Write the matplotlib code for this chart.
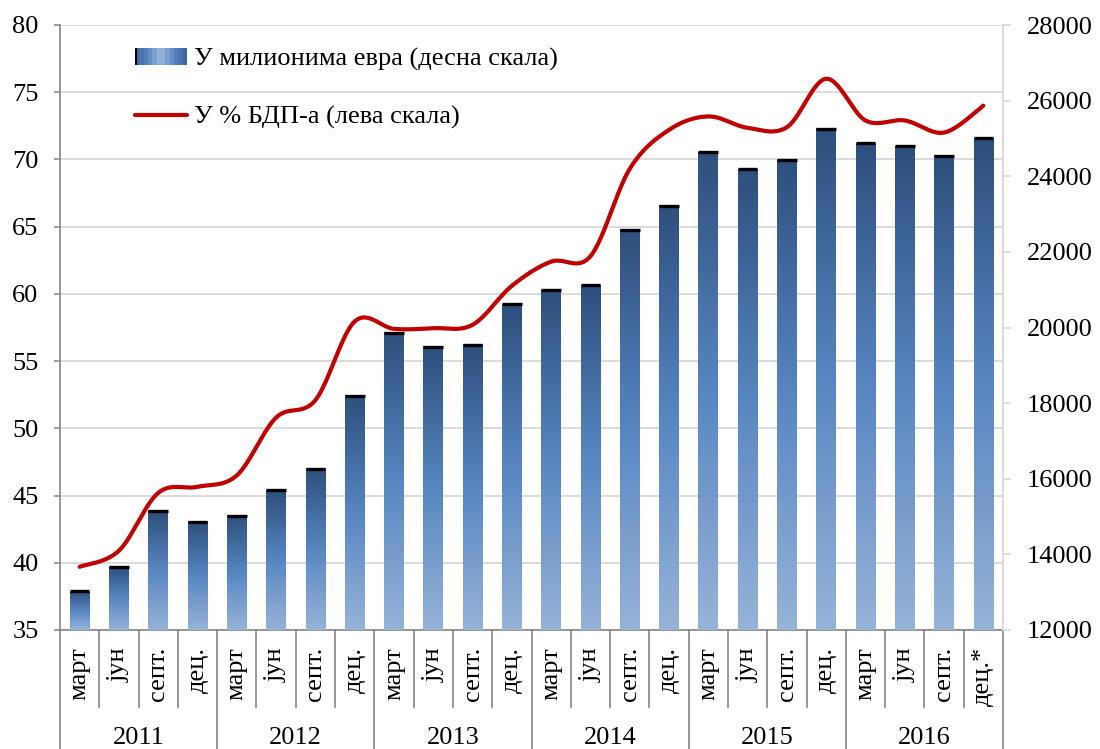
import numpy as np
import matplotlib
matplotlib.use("Agg")
import matplotlib.pyplot as plt
import matplotlib.transforms as mtransforms
from matplotlib.colors import LinearSegmentedColormap
from matplotlib.patches import Rectangle
from matplotlib.legend_handler import HandlerBase

# ---------------- data ----------------
quarter_labels = ["март", "јун", "септ.", "дец.",
                  "март", "јун", "септ.", "дец.",
                  "март", "јун", "септ.", "дец.",
                  "март", "јун", "септ.", "дец.",
                  "март", "јун", "септ.", "дец.",
                  "март", "јун", "септ.", "дец.*"]
year_labels = ["2011", "2012", "2013", "2014", "2015", "2016"]

debt_eur = [13030, 13670, 15150, 14860, 15020, 15700, 16260, 18190,
            19860, 19490, 19540, 20610, 20990, 21120, 22580, 23220,
            24640, 24190, 24430, 25250, 24870, 24800, 24540, 25010]
debt_gdp = [39.7, 40.9, 45.2, 45.65, 46.5, 50.8, 52.1, 57.95,
            57.4, 57.45, 57.7, 60.6, 62.4, 62.8, 69.3, 72.2,
            73.2, 72.35, 72.4, 76.0, 72.9, 72.9, 72.0, 74.0]

left_ticks = [35, 40, 45, 50, 55, 60, 65, 70, 75, 80]
right_ticks = [12000, 14000, 16000, 18000, 20000, 22000, 24000, 26000, 28000]

label_bars = "У милионима евра (десна скала)"
label_line = "У % БДП-а (лева скала)"

# ---------------- style ----------------
plt.rcParams["font.family"] = ["Liberation Serif", "DejaVu Serif"]
FS = 19
GRID = "#D9D9D9"
AXC = "#868686"
RED = "#C00000"

fig = plt.figure(figsize=(11, 7.49), dpi=100)
W, H = 1100, 749
L, R, T, B = 60, 1003, 25, 630
ax = fig.add_axes([L / W, 1 - B / H, (R - L) / W, (B - T) / H])

n = len(debt_eur)
x = np.arange(n)

# left axis (grid + ticks)
ax.set_xlim(-0.5, n - 0.5)
ax.set_ylim(left_ticks[0], left_ticks[-1])
ax.set_yticks(left_ticks)
ax.set_xticks([])
ax.yaxis.grid(True, color=GRID, lw=1.3, zorder=0)
ax.set_axisbelow(True)
for s in ["top", "right"]:
    ax.spines[s].set_visible(False)
for s in ["left", "bottom"]:
    ax.spines[s].set_color(AXC)
    ax.spines[s].set_linewidth(1.2)
ax.tick_params(axis="y", direction="out", length=4.5, width=1.1, color=AXC,
               pad=11, labelsize=FS)

# bars on right axis
ax2 = ax.twinx()
ax2.set_ylim(right_ticks[0], right_ticks[-1])
ax2.set_yticks(right_ticks)
for s in ["top", "left", "bottom"]:
    ax2.spines[s].set_visible(False)
ax2.spines["right"].set_color(GRID)
ax2.spines["right"].set_linewidth(1.3)
ax2.tick_params(axis="y", direction="out", length=6, width=1.2, color=GRID,
                pad=11, labelsize=FS)

bar_cmap = LinearSegmentedColormap.from_list(
    "bar", [(0.0, "#96B3D8"), (0.5, "#5886C1"), (1.0, "#2D4F7D")])
grad = np.linspace(0, 1, 256).reshape(-1, 1)

bars = ax2.bar(x, debt_eur, width=0.5, color="none", edgecolor="none", zorder=2)
for p in bars.patches:
    x0 = p.get_x()
    x1 = x0 + p.get_width()
    top = p.get_height()
    ax2.imshow(grad, cmap=bar_cmap, origin="lower", aspect="auto",
               extent=(x0, x1, right_ticks[0], top), interpolation="bilinear",
               zorder=2)
ax2.hlines(debt_eur, x - 0.25, x + 0.25, colors="black", lw=2.4, zorder=3)
ax2.set_xlim(-0.5, n - 0.5)
ax2.set_ylim(right_ticks[0], right_ticks[-1])

# line on a third axis (left scale) drawn above bars
ax3 = ax.twinx()
ax3.set_ylim(left_ticks[0], left_ticks[-1])
ax3.set_xlim(-0.5, n - 0.5)
ax3.axis("off")


def smooth(xs, ys, steps=40):
    pts = np.column_stack([xs, ys]).astype(float)
    out = []
    m = len(pts)
    t = np.linspace(0, 1, steps)[:, None]
    for i in range(m - 1):
        p0 = pts[max(i - 1, 0)]
        p1 = pts[i]
        p2 = pts[i + 1]
        p3 = pts[min(i + 2, m - 1)]
        c1 = p1 + (p2 - p0) / 6.0
        c2 = p2 - (p3 - p1) / 6.0
        seg = ((1 - t) ** 3) * p1 + 3 * ((1 - t) ** 2) * t * c1 \
            + 3 * (1 - t) * t ** 2 * c2 + t ** 3 * p2
        out.append(seg if i == 0 else seg[1:])
    out = np.vstack(out)
    return out[:, 0], out[:, 1]


sx, sy = smooth(x, debt_gdp)
line, = ax3.plot(sx, sy, color=RED, lw=3.0, solid_capstyle="round", zorder=5)

# category axis decorations
trans = mtransforms.blended_transform_factory(ax.transData, ax.transAxes)
cat_bottom = (B - 707) / (B - T)
fig_bottom = (B - H - 2) / (B - T)
for k in range(n + 1):
    b = k - 0.5
    y_end = fig_bottom if k % 4 == 0 else cat_bottom
    ax.plot([b, b], [0, y_end], transform=trans, color=AXC, lw=1.2,
            clip_on=False, zorder=1)
for i, lbl in enumerate(quarter_labels):
    ax.text(i, (B - 647) / (B - T), lbl, rotation=90, ha="center", va="top",
            transform=trans, fontsize=FS)
for k, yr in enumerate(year_labels):
    ax.text(4 * k + 1.5, (B - 738) / (B - T), yr, ha="center", va="center",
            transform=trans, fontsize=FS)


# legend with gradient swatch
class GradHandler(HandlerBase):
    def create_artists(self, legend, orig_handle, xdescent, ydescent,
                       width, height, fontsize, trans):
        cm = LinearSegmentedColormap.from_list(
            "leg", ["#35609A", "#5A86C0", "#9CB9DE"])
        arts = []
        steps = 12
        for k in range(steps):
            f = 1 - abs((k + 0.5) / steps * 2 - 1)
            arts.append(Rectangle((-xdescent + k * width / steps, -ydescent),
                                  width / steps + 0.3, height,
                                  facecolor=cm(f), edgecolor="none",
                                  transform=trans))
        arts.append(Rectangle((-xdescent, -ydescent), width * 0.04, height,
                              facecolor="black", edgecolor="none",
                              transform=trans))
        return arts


leg = ax3.legend([bars, line], [label_bars, label_line],
                 handler_map={bars: GradHandler()},
                 loc="upper left", bbox_to_anchor=((135 - L) / (R - L), (B - 48) / (B - T)),
                 frameon=False, fontsize=FS, borderaxespad=0, borderpad=0,
                 handlelength=1.97, handleheight=0.6, handletextpad=0.25,
                 labelspacing=1.32)

fig.savefig("out.png", dpi=100)
